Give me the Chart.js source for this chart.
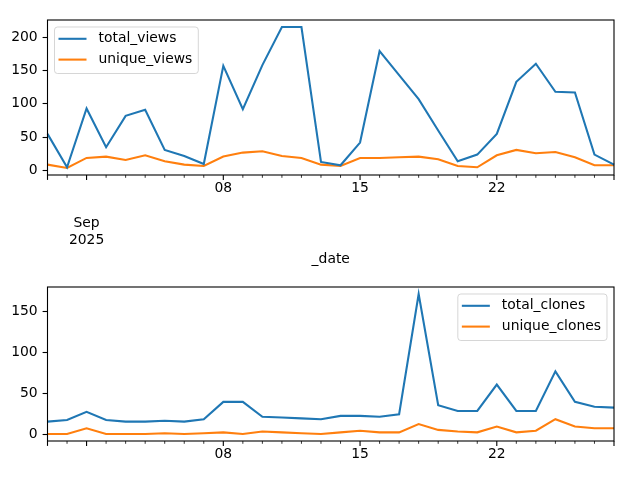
<!DOCTYPE html>
<html>
<head>
<meta charset="utf-8">
<script src="https://cdn.jsdelivr.net/npm/chart.js@4"></script>
<style>
  html, body { margin: 0; padding: 0; background: #fff; }
  #wrap { position: relative; width: 640px; height: 480px; overflow: hidden; }
  canvas { position: absolute; left: 0; }
</style>
</head>
<body>
<div id="wrap">
  <canvas id="views" width="640" height="270" style="top:0px;width:640px;height:270px"></canvas>
  <canvas id="clones" width="640" height="210" style="top:270px;width:640px;height:210px"></canvas>
</div>
<script>
const dates = [
  '2025-08-30', '2025-08-31', '2025-09-01', '2025-09-02', '2025-09-03', '2025-09-04',
  '2025-09-05', '2025-09-06', '2025-09-07', '2025-09-08', '2025-09-09', '2025-09-10',
  '2025-09-11', '2025-09-12', '2025-09-13', '2025-09-14', '2025-09-15', '2025-09-16',
  '2025-09-17', '2025-09-18', '2025-09-19', '2025-09-20', '2025-09-21', '2025-09-22',
  '2025-09-23', '2025-09-24', '2025-09-25', '2025-09-26', '2025-09-27', '2025-09-28'
];
const totalViews = [55, 5, 93, 35, 82, 91, 31, 22, 10, 157, 92, 158, 215, 215, 13, 8, 42, 179, 143, 107, 60, 14, 24, 55, 133, 160, 118, 117, 24, 9];
const uniqueViews = [9, 4, 19, 21, 16, 23, 14, 9, 7, 21, 27, 29, 22, 19, 9, 7, 19, 19, 20, 21, 17, 7, 5, 23, 31, 26, 28, 20, 8, 8];
const totalClones = [16, 18, 28, 18, 16, 16, 17, 16, 19, 40, 40, 22, 21, 20, 19, 23, 23, 22, 25, 171, 36, 29, 29, 61, 29, 29, 77, 40, 34, 33];
const uniqueClones = [1, 1, 8, 1, 1, 1, 2, 1, 2, 3, 1, 4, 3, 2, 1, 3, 5, 3, 3, 13, 6, 4, 3, 10, 3, 5, 19, 10, 8, 8];

const xTickDates = ['2025-09-01', '2025-09-08', '2025-09-15', '2025-09-22'];
const xTickLabels = [['', '', 'Sep', '2025'], '08', '15', '22'];
const yTicksViews = [0, 50, 100, 150, 200];
const yTicksClones = [0, 50, 100, 150];

const BLUE = '#1f77b4';
const ORANGE = '#ff7f0e';
const FONT = 'DejaVu Sans';

Chart.defaults.font.family = FONT;
Chart.defaults.font.size = 13.9;
Chart.defaults.color = '#000';

// axes frame, date tick marks and a matplotlib-like legend box
const mplLook = {
  id: 'mplLook',
  afterDraw(chart, args, opts) {
    const ctx = chart.ctx;
    const a = chart.chartArea;
    const xs = chart.scales.x;
    ctx.save();
    // tick marks under the x axis
    ctx.strokeStyle = '#000';
    const n = chart.data.labels.length;
    for (let i = 0; i < n; i++) {
      const px = xs.getPixelForTick(i);
      const major = xTickDates.includes(chart.data.labels[i]) || i === 0 || i === n - 1;
      ctx.lineWidth = major ? 1.1 : 0.8;
      ctx.beginPath();
      ctx.moveTo(px, a.bottom);
      ctx.lineTo(px, a.bottom + (major ? 4.9 : 2.8));
      ctx.stroke();
    }
    // spines
    ctx.lineWidth = 1.1;
    ctx.strokeRect(a.left, a.top, a.right - a.left, a.bottom - a.top);

    // legend
    ctx.font = '13.9px "' + FONT + '"';
    const sets = chart.data.datasets;
    let tw = 0;
    sets.forEach(d => { tw = Math.max(tw, ctx.measureText(d.label).width); });
    const w = 44 + tw + 6;
    const h = 46.5;
    const lx = opts.corner === 'right' ? a.right - 7 - w : a.left + 7;
    const ly = a.top + 7;
    ctx.beginPath();
    ctx.roundRect(lx, ly, w, h, 3);
    ctx.fillStyle = 'rgba(255,255,255,0.8)';
    ctx.fill();
    ctx.strokeStyle = 'rgba(204,204,204,0.8)';
    ctx.lineWidth = 1;
    ctx.stroke();
    sets.forEach((d, i) => {
      const yy = ly + 11.8 + i * 20.8;
      ctx.strokeStyle = d.borderColor;
      ctx.lineWidth = 2.08;
      ctx.beginPath();
      ctx.moveTo(lx + 4, yy);
      ctx.lineTo(lx + 32, yy);
      ctx.stroke();
      ctx.fillStyle = '#000';
      ctx.textBaseline = 'middle';
      ctx.textAlign = 'left';
      ctx.fillText(d.label, lx + 44, yy);
    });
    ctx.restore();
  }
};

function limits(arrs) {
  const all = [].concat(...arrs);
  const lo = Math.min(...all), hi = Math.max(...all);
  const m = (hi - lo) * 0.05;
  return [lo - m, hi + m];
}

function makeChart(id, sets, yTicks, xHeight, padTop, showTitle, corner) {
  const [ymin, ymax] = limits(sets.map(s => s.data));
  return new Chart(document.getElementById(id), {
    type: 'line',
    data: {
      labels: dates,
      datasets: sets.map(s => ({
        label: s.label,
        data: s.data,
        borderColor: s.color,
        backgroundColor: s.color,
        borderWidth: 2.08,
        pointRadius: 0,
        tension: 0,
        fill: false
      }))
    },
    options: {
      responsive: false,
      animation: false,
      layout: { padding: { top: padTop, right: 26, left: 0, bottom: 0 } },
      plugins: {
        legend: { display: false },
        tooltip: { enabled: false },
        mplLook: { corner: corner }
      },
      scales: {
        x: {
          type: 'category',
          offset: false,
          border: { display: false },
          grid: { drawOnChartArea: false, drawTicks: true, tickLength: 4.9, tickColor: 'rgba(0,0,0,0)' },
          ticks: {
            autoSkip: false,
            maxRotation: 0,
            minRotation: 0,
            padding: 0,
            font: { lineHeight: 1.25 },
            callback: function (v, i) {
              const k = xTickDates.indexOf(dates[i]);
              return k >= 0 ? xTickLabels[k] : '';
            }
          },
          title: { display: showTitle, text: '_date', padding: { top: 0, bottom: 2.6 } },
          afterFit: s => { s.height = xHeight; }
        },
        y: {
          min: ymin,
          max: ymax,
          border: { display: false },
          grid: { drawOnChartArea: false, drawTicks: true, tickLength: 4.9, tickColor: '#000', tickWidth: 1.1 },
          ticks: { padding: 4.9 },
          afterBuildTicks: s => { s.ticks = yTicks.map(v => ({ value: v })); },
          afterFit: s => { s.width = 47.5; }
        }
      }
    },
    plugins: [mplLook]
  });
}

makeChart('views', [
  { label: 'total_views', data: totalViews, color: BLUE },
  { label: 'unique_views', data: uniqueViews, color: ORANGE }
], yTicksViews, 95, 20, true, 'left');

makeChart('clones', [
  { label: 'total_clones', data: totalClones, color: BLUE },
  { label: 'unique_clones', data: uniqueClones, color: ORANGE }
], yTicksClones, 39, 17, false, 'right');
</script>
</body>
</html>
